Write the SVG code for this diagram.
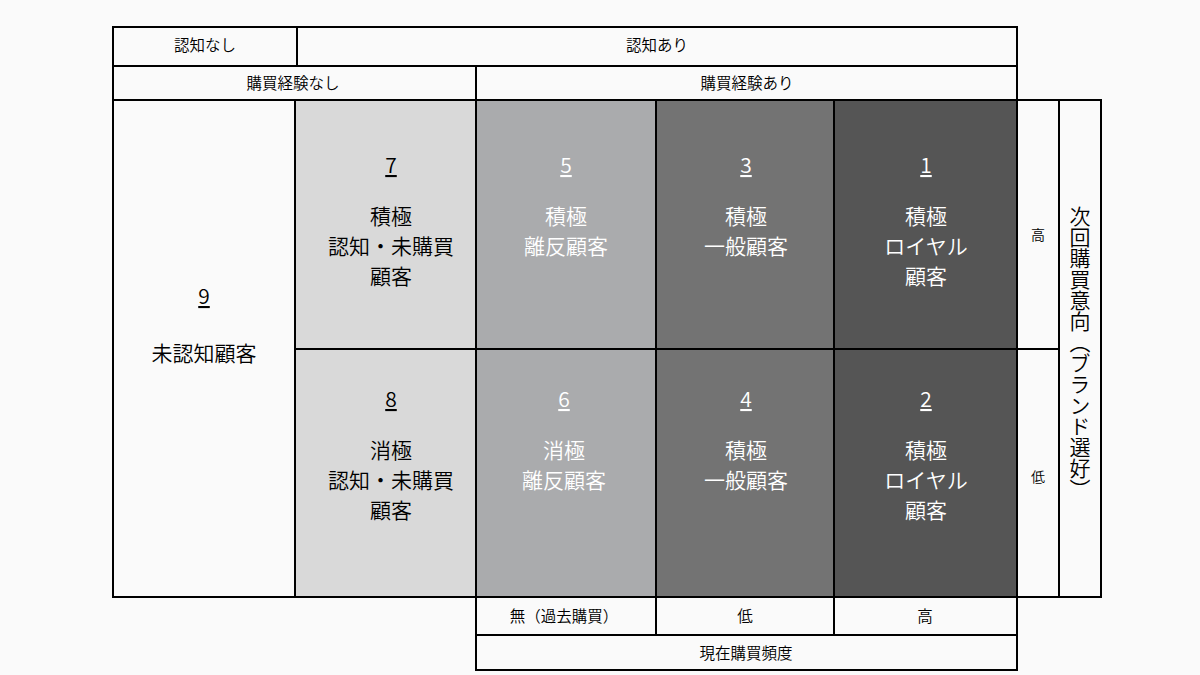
<svg xmlns="http://www.w3.org/2000/svg" width="1200" height="675" viewBox="0 0 1200 675">
<style>
text{font-family:"Noto Sans CJK JP","Noto Sans",sans-serif;text-anchor:middle;font-weight:350;}
.c{stroke:#000;stroke-width:2;}
.w{fill:#fafafa;}
.sm{font-size:15.5px;fill:#000;}
.xs{font-size:14px;fill:#000;}
.lg{font-size:21px;}
.dk{fill:#000;}
.lt{fill:#fff;}
.u{text-decoration:underline;}
</style>
<rect width="1200" height="675" fill="#fafafa"/>
<g id="header-ninchi-nashi"><rect class="c w" x="113" y="27" width="184" height="39"/><text class="sm" x="205" y="51">認知なし</text></g>
<g id="header-ninchi-ari"><rect class="c w" x="297" y="27" width="720" height="39"/><text class="sm" x="657" y="51">認知あり</text></g>
<g id="header-keiken-nashi"><rect class="c w" x="113" y="66" width="363" height="34"/><text class="sm" x="293" y="89">購買経験なし</text></g>
<g id="header-keiken-ari"><rect class="c w" x="476" y="66" width="541" height="34"/><text class="sm" x="747" y="89">購買経験あり</text></g>
<g id="cell-9"><rect class="c w" x="113" y="100" width="182" height="497"/><text class="lg dk u" x="204" y="304">9</text><text class="lg dk" x="204" y="361">未認知顧客</text></g>
<g id="cell-7"><rect class="c" fill="#d9d9d9" x="295" y="100" width="181" height="249"/><text class="lg dk u" x="391" y="173">7</text><text class="lg dk" x="391" y="224">積極</text><text class="lg dk" x="391" y="254">認知・未購買</text><text class="lg dk" x="391" y="284">顧客</text></g>
<g id="cell-8"><rect class="c" fill="#d9d9d9" x="295" y="349" width="181" height="248"/><text class="lg dk u" x="391" y="407">8</text><text class="lg dk" x="391" y="458">消極</text><text class="lg dk" x="391" y="488">認知・未購買</text><text class="lg dk" x="391" y="518">顧客</text></g>
<g id="cell-5"><rect class="c" fill="#aaabad" x="476" y="100" width="180" height="249"/><text class="lg lt u" x="566" y="173">5</text><text class="lg lt" x="566" y="224">積極</text><text class="lg lt" x="566" y="254">離反顧客</text></g>
<g id="cell-6"><rect class="c" fill="#aaabad" x="476" y="349" width="180" height="248"/><text class="lg lt u" x="564" y="407">6</text><text class="lg lt" x="564" y="458">消極</text><text class="lg lt" x="564" y="488">離反顧客</text></g>
<g id="cell-3"><rect class="c" fill="#737373" x="656" y="100" width="178" height="249"/><text class="lg lt u" x="746" y="173">3</text><text class="lg lt" x="746" y="224">積極</text><text class="lg lt" x="746" y="254">一般顧客</text></g>
<g id="cell-4"><rect class="c" fill="#737373" x="656" y="349" width="178" height="248"/><text class="lg lt u" x="746" y="407">4</text><text class="lg lt" x="746" y="458">積極</text><text class="lg lt" x="746" y="488">一般顧客</text></g>
<g id="cell-1"><rect class="c" fill="#555555" x="834" y="100" width="183" height="249"/><text class="lg lt u" x="926" y="173">1</text><text class="lg lt" x="926" y="224">積極</text><text class="lg lt" x="926" y="254">ロイヤル</text><text class="lg lt" x="926" y="284">顧客</text></g>
<g id="cell-2"><rect class="c" fill="#555555" x="834" y="349" width="183" height="248"/><text class="lg lt u" x="926" y="407">2</text><text class="lg lt" x="926" y="458">積極</text><text class="lg lt" x="926" y="488">ロイヤル</text><text class="lg lt" x="926" y="518">顧客</text></g>
<g id="axis-high"><rect class="c w" x="1017" y="100" width="42" height="249"/><text class="xs" x="1038" y="240">高</text></g>
<g id="axis-low"><rect class="c w" x="1017" y="349" width="42" height="248"/><text class="xs" x="1038" y="482">低</text></g>
<g id="axis-intent"><rect class="c w" x="1059" y="100" width="42" height="497"/><text class="lg dk" x="1080" y="353" style="writing-mode:vertical-rl">次回購買意向（ブランド選好）</text></g>
<g id="freq-none"><rect class="c w" x="476" y="597" width="180" height="38"/><text class="sm" x="564" y="622">無（過去購買）</text></g>
<g id="freq-low"><rect class="c w" x="656" y="597" width="178" height="38"/><text class="sm" x="745" y="622">低</text></g>
<g id="freq-high"><rect class="c w" x="834" y="597" width="183" height="38"/><text class="sm" x="925" y="622">高</text></g>
<g id="freq-label"><rect class="c w" x="476" y="635" width="541" height="35"/><text class="sm" x="746" y="659">現在購買頻度</text></g>
<g id="connectors"></g>
</svg>
